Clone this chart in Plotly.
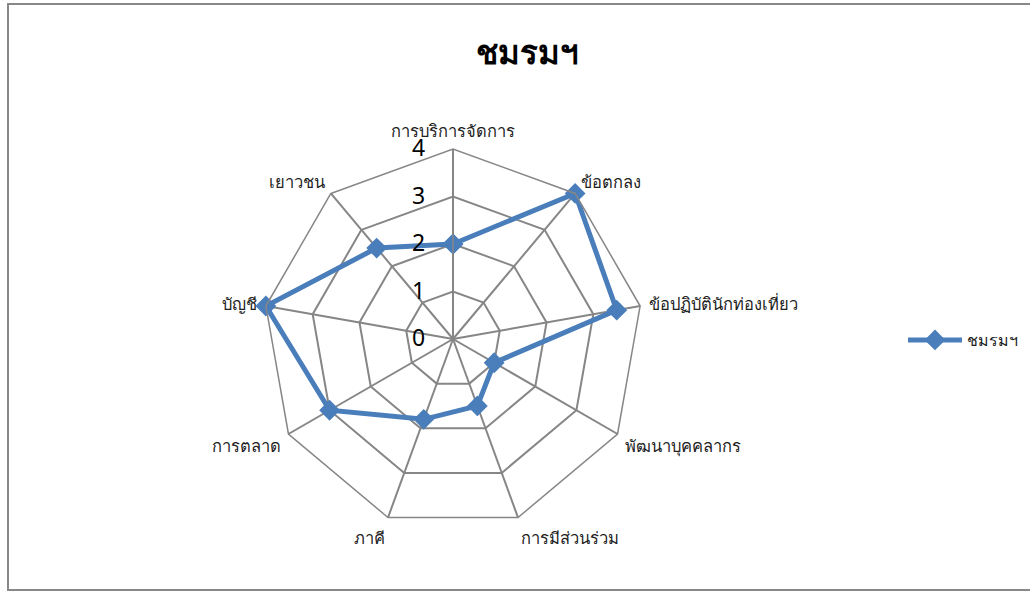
import plotly.graph_objects as go

categories = ["การบริการจัดการ", "ข้อตกลง", "ข้อปฏิบัตินักท่องเที่ยว", "พัฒนาบุคคลากร",
              "การมีส่วนร่วม", "ภาคี", "การตลาด", "บัญชี", "เยาวชน"]
values = [2, 4, 3.5, 1, 1.5, 1.8, 3, 4, 2.5]
series_name = "ชมรมฯ"
radial_ticks = [0, 1, 2, 3, 4]

W, H = 1030, 591
cx, cy, R = 453, 339, 190

fig = go.Figure()
fig.add_trace(go.Scatterpolar(
    r=values + values[:1],
    theta=categories + categories[:1],
    mode="lines+markers",
    name=series_name,
    line=dict(color="#4A7EBB", width=5),
    marker=dict(symbol="diamond", size=16, color="#4A7EBB"),
))

fig.update_layout(
    width=W, height=H,
    margin=dict(l=0, r=0, t=0, b=0),
    paper_bgcolor="white",
    plot_bgcolor="white",
    font=dict(family="Noto Sans, Tahoma, sans-serif", color="#222222", size=15),
    title=dict(text="<b>ชมรมฯ</b>", x=527 / W, y=1 - 52 / H, xanchor="center", yanchor="middle",
               font=dict(size=33, color="black")),
    polar=dict(
        domain=dict(x=[(cx - R) / W, (cx + R) / W], y=[1 - (cy + R) / H, 1 - (cy - R) / H]),
        bgcolor="white",
        gridshape="linear",
        radialaxis=dict(range=[0, 4], tickvals=radial_ticks, angle=90, side="counterclockwise",
                        showline=True, linecolor="#868686", linewidth=1.5,
                        gridcolor="#868686", gridwidth=1.5,
                        ticks="outside", ticklen=19, tickcolor="rgba(0,0,0,0)", tickangle=90,
                        tickfont=dict(size=23, color="black")),
        angularaxis=dict(direction="clockwise", rotation=90, showline=True,
                         linecolor="#868686", linewidth=1.5, gridcolor="#868686", gridwidth=1.5,
                         ticks="outside", ticklen=5, tickcolor="rgba(0,0,0,0)",
                         tickfont=dict(size=16.5, color="#222222")),
    ),
    showlegend=True,
    legend=dict(x=903 / W, y=1 - 340 / H, xanchor="left", yanchor="middle", itemwidth=54,
                font=dict(size=16, color="#222222"), bgcolor="rgba(0,0,0,0)"),
    shapes=[dict(type="rect", xref="paper", yref="paper",
                 x0=8 / W, x1=1.02, y0=1 - 590 / H, y1=1 - 4 / H,
                 line=dict(color="#888888", width=2))],
)

fig.write_html("out.html", config={"displayModeBar": False},
               post_script="document.body.style.margin='0';")
